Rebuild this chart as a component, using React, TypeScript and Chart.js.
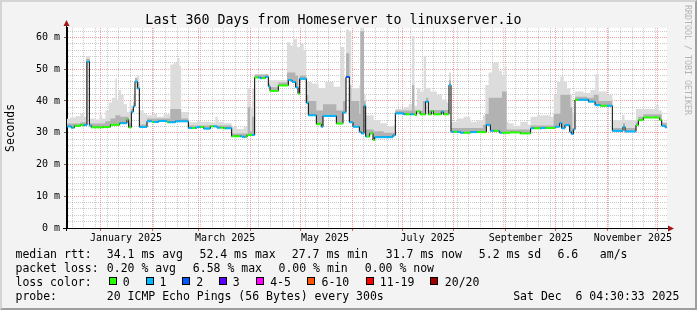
import React, { useEffect, useRef } from "react";
import { Chart, registerables } from "chart.js";

Chart.register(...registerables);

const FONT = "'DejaVu Sans Mono', monospace";

// ---------- axis definitions (x = days relative to 1 Jan 2025) ----------
const X_MIN = -20;
const X_MAX = 340;
const MONTH_START_DAYS = [0, 31, 59, 90, 120, 151, 181, 212, 243, 273, 304, 334];
const FIRST_SUNDAY_DAY = -17;
const MONTH_LABELS = ["January 2025", "March 2025", "May 2025", "July 2025", "September 2025", "November 2025"];
const MONTH_LABEL_DAYS = [15.4, 74.9, 134.8, 196.4, 258.3, 319.5];
const Y_MAX = 63;
const Y_MAJOR_STEP = 10;
const Y_MINOR_STEP = 2;

const TITLE = "Last 360 Days from Homeserver to linuxserver.io";
const Y_TITLE = "Seconds";

// ---------- data (milliseconds) ----------
const MEDIAN_DAYS = [
  -20, -17.5, -15.5, -12, -8, -6.6, -5.5, 2, 6, 11.5, 16, 17, 18.6, 19.8, 20.8, 22.2, 23.4, 28, 31, 35, 40, 45,
  52.8, 58, 62, 66, 70, 74, 78.8, 85, 88, 92.6, 96, 99, 100.8, 101.8, 106.8, 112.8, 115, 117.2, 118.6, 119.6,
  123.6, 124.8, 129.6, 132.6, 133.6, 141.6, 145.6, 147.4, 149.4, 151.6, 155.4, 156.6, 158.2, 159.2, 161.6,
  163.6, 164.6, 175.6, 177, 182, 188.8, 189.8, 191.8, 195.2, 196.8, 198.6, 199.8, 204.6, 205.8, 209.2, 210.4,
  216, 222, 231.6, 234, 239.6, 245.8, 252, 258.2, 265, 272.8, 275.6, 276.8, 278.8, 281.6, 282.6, 283.8, 284.8,
  292.8, 296.8, 300, 307.2, 313.6, 314.8, 321.4, 322.8, 325.8, 335.6, 336.8, 338.8,
];
const MEDIAN_MS = [
  32.0, 31.6, 32.2, 32.4, 52.4, 32.3, 31.7, 31.8, 32.5, 33.0, 34.2, 31.7, 36.6, 38.3, 46.1, 44.0, 31.8, 33.6, 33.4, 33.7, 33.3, 33.6,
  31.5, 31.8, 31.3, 32.0, 31.6, 31.4, 28.9, 28.7, 29.3, 47.4, 47.2, 47.6, 44.6, 43.2, 44.9, 46.6, 46.0, 44.3, 42.3, 47.0,
  39.4, 35.5, 32.7, 31.9, 35.3, 32.9, 36.4, 47.6, 33.3, 31.9, 30.3, 29.8, 38.5, 28.8, 29.8,
  27.7, 28.6, 29.2, 36.1, 35.8, 35.6, 36.7, 35.8, 39.8, 35.8, 36.8, 35.8, 36.6, 35.8, 45.0, 30.3,
  30.0, 30.2, 32.5, 30.6, 30.0, 30.1, 29.8, 31.4, 31.5, 31.9, 33.0, 31.4, 32.4, 30.3, 29.6, 31.0, 40.4,
  39.8, 38.7, 38.5, 30.6, 31.9, 30.4, 32.4, 34.0, 34.8, 34.0, 32.2, 31.7,
];

// loss level: 0 -> "0", 1 -> "1", 2 -> "2" lost pings of 20
const LOSS_DAYS = [
  -20, -16, -10, -5.5, 12, 16, 18.6, 31, 32, 40, 41, 55, 57, 60, 62, 66, 68, 72, 75, 79, 84, 87, 91, 92.6, 95, 97,
  99, 101.8, 112.8, 118.6, 119.6, 129.6, 132.6, 141.6, 145.6, 147.4, 149.4, 160, 164.6, 183, 186, 188, 195.2,
  196.8, 204.6, 206, 209.2, 212, 214, 218, 222, 226, 231.6, 236, 239, 241, 258.2, 260, 264, 267, 272.8, 284.8,
  287, 300, 304, 321.4, 336.8,
];
const LOSS_LEVEL = [
  1, 0, 1, 0, 1, 0, 1, 0, 1, 0, 1, 0, 1, 0, 1, 0, 1, 0, 1, 0, 1, 0, 1, 0, 1, 0,
  1, 0, 1, 0, 1, 0, 1, 0, 1, 2, 1, 0, 1, 0, 1, 0, 1,
  0, 1, 0, 1, 0, 1, 0, 1, 0, 1, 0, 1, 0, 1, 0, 1, 0, 1, 0,
  1, 0, 1, 0, 1,
];

// upper edge of the light smoke (slowest pings)
const SMOKE_HIGH_DAYS = [
  -20, -18, -15, -12, -10, -8.5, -6.2, -3, -0.5, 1, 3, 5, 7, 9, 10, 11, 12.5, 14, 16, 17.5, 18.6, 19.8, 20.8, 22.2,
  23.4, 26, 28, 32, 34, 38, 42, 44, 46, 47.5, 48.5, 52.8, 58, 60, 66, 69, 70.5, 74, 78.8, 82, 86, 88.4, 89.8, 91,
  92.6, 100, 101, 112, 114, 116, 118, 120, 122, 123.6, 127, 131, 135, 140, 144, 146.4, 147.4, 149.4, 150.6, 155.4,
  156, 158.2, 159.2, 162, 164, 168, 172, 176, 177, 182, 185, 187, 188.4, 190, 192, 194, 195.4, 198, 202, 205, 208,
  209.2, 210.4, 214, 218, 222, 226, 229.5, 231, 233, 235, 237, 239, 241, 242.5, 243.8, 245, 248, 252, 256, 258.2,
  262, 266, 270, 272, 274, 276, 278, 280, 282, 283.2, 284.8, 290, 294, 297, 299, 304, 307.2, 313, 314.5, 321.4,
  330, 333.5, 335, 336.8,
];
const SMOKE_HIGH_MS = [
  34.4, 34.8, 35.2, 36.0, 35.0, 54.2, 34.5, 34.2, 35.5, 34.5, 37.0, 39.5, 41.0, 47.0, 40.5, 43.5, 42.0, 39.0, 36.5, 40.0, 38.5, 42.0, 47.5, 48.2,
  37.0, 36.0, 35.5, 36.0, 35.0, 35.8, 51.5, 52.0, 53.5, 51.0, 36.5, 33.3, 33.8, 33.5, 33.2, 35.0, 33.5, 33.0, 31.8, 31.2, 32.0, 44.0, 38.0, 44.0,
  48.5, 48.0, 46.5, 58.5, 57.5, 59.5, 57.0, 58.0, 56.0, 46.0, 45.5, 44.0, 46.0, 44.5, 57.0, 47.0, 62.5, 62.0, 44.0, 45.0,
  63.0, 42.0, 35.5, 35.5, 34.0, 33.0, 32.0, 32.5, 37.5, 38.0, 39.0, 60.5, 38.5, 44.0, 43.0, 54.0, 44.0, 43.0, 42.0, 40.5, 39.5,
  49.0, 33.5, 34.5, 35.0, 33.5, 34.0, 35.5, 45.0, 49.0, 52.0, 52.3, 49.5, 48.0, 51.0, 33.5, 33.0, 32.2, 33.5, 32.5, 35.0,
  35.5, 35.5, 35.0, 42.0, 46.0, 47.6, 46.0, 44.0, 42.0, 36.0, 43.0, 42.5, 43.5, 48.5, 43.0, 42.0, 34.0, 35.7, 34.0, 37.5,
  37.5, 38.7, 37.0, 33.5,
];

// upper edge of the dense (darker) part of the smoke
const SMOKE_CORE_DAYS = [
  -20, -12, -8.5, -6.2, 3, 6, 9, 12, 16, 17, 18.6, 19.8, 20.8, 22.2, 23.4, 28, 42, 48.5, 52.8, 78.8, 88.4, 89.8,
  91, 92.6, 99, 100.8, 101.8, 106.8, 112, 117, 118.6, 119.6, 123.6, 124.8, 129.6, 133.6, 141.6, 145.6, 147.4,
  149.4, 150.6, 155.4, 156, 158.2, 159.2, 164, 170, 177, 187, 188.4, 193.5, 195.4, 196.8, 209.2, 210.4, 229.5,
  231, 233, 241, 243.8, 258.2, 272, 276, 282, 283.2, 284.8, 292, 296, 299, 307.2, 313.6, 314.8, 321.4, 322.8,
  325.8, 336.8,
];
const SMOKE_CORE_MS = [
  32.9, 33.3, 53.2, 32.9, 33.6, 34.5, 35.5, 35.0, 35.0, 33.0, 37.5, 39.5, 47.2, 46.0, 32.6, 34.5, 37.5, 34.5, 32.3, 29.8, 38.0, 30.5,
  35.0, 48.3, 48.4, 45.4, 44.3, 45.8, 49.0, 48.0, 44.0, 48.0, 42.0, 40.0, 37.0, 39.0, 37.0, 40.0, 55.0,
  45.0, 40.0, 36.0, 62.0, 40.0, 31.0, 30.5, 30.0, 37.0, 45.0, 37.0, 40.0, 41.0, 37.2, 46.5, 31.5, 32.5,
  36.0, 41.0, 43.0, 31.0, 32.3, 36.0, 42.0, 38.0, 31.5, 41.3, 41.0, 42.0, 40.0, 31.5, 33.0, 31.5, 33.3, 35.0,
  35.8, 33.0,
];

const LOSS_COLORS = ["#26ff00", "#00b8ff", "#0059ff", "#5e00ff", "#ff00ff", "#ff5500", "#ff0000", "#a10000"];
const LOSS_LEGEND = ["0", "1", "2", "3", "4-5", "6-10", "11-19", "20/20"];

// ---------- helpers ----------
// each value holds from its day until the next day (step)
function toPoints(days: number[], vals: number[]) {
  const pts = days.map((d, i) => ({ x: d, y: vals[i] }));
  pts.push({ x: X_MAX, y: vals[vals.length - 1] });
  return pts;
}
function valueAt(days: number[], vals: number[], d: number) {
  let idx = 0;
  for (let i = 0; i < days.length; i++) if (days[i] <= d) idx = i;
  return vals[idx];
}
function lossSegments() {
  const cuts = Array.from(new Set([...MEDIAN_DAYS, ...LOSS_DAYS, X_MAX])).sort((a, b) => a - b);
  const pts: { x: number; y: number | null }[] = [];
  const cols: string[] = [];
  for (let i = 0; i < cuts.length - 1; i++) {
    const a = cuts[i];
    const b = cuts[i + 1];
    const v = valueAt(MEDIAN_DAYS, MEDIAN_MS, a);
    const c = LOSS_COLORS[valueAt(LOSS_DAYS, LOSS_LEVEL, a)];
    pts.push({ x: a, y: v }, { x: b, y: v }, { x: b, y: null });
    cols.push(c, c, "rgba(0,0,0,0)");
  }
  return { pts, cols };
}

const X_GRID = (() => {
  const s = new Set<number>(MONTH_START_DAYS.filter((d) => d > X_MIN && d < X_MAX));
  for (let d = FIRST_SUNDAY_DAY; d < X_MAX; d += 7) s.add(d);
  return Array.from(s).sort((a, b) => a - b);
})();
const Y_GRID = (() => {
  const t: number[] = [];
  for (let v = 0; v < Y_MAX; v += Y_MINOR_STEP) t.push(v);
  return t;
})();

const MAJOR_GRID = "rgba(240,80,80,0.55)";
const MINOR_GRID = "rgba(150,150,150,0.5)";

const frame = {
  id: "rrdFrame",
  beforeDraw(chart: any) {
    const { ctx, chartArea: a } = chart;
    ctx.save();
    ctx.fillStyle = "#ffffff";
    ctx.fillRect(a.left, a.top, a.right - a.left, a.bottom - a.top);
    ctx.restore();
  },
  afterDraw(chart: any) {
    const { ctx, chartArea: a } = chart;
    ctx.save();
    ctx.strokeStyle = "#000";
    ctx.lineWidth = 1;
    ctx.beginPath();
    ctx.moveTo(a.left - 0.5, a.bottom + 3);
    ctx.lineTo(a.left - 0.5, a.top - 4);
    ctx.moveTo(a.left - 4, a.bottom + 0.5);
    ctx.lineTo(a.right + 2, a.bottom + 0.5);
    ctx.stroke();
    ctx.fillStyle = "#a01818";
    ctx.beginPath();
    ctx.moveTo(a.left - 0.5, a.top - 8);
    ctx.lineTo(a.left - 3.5, a.top - 2);
    ctx.lineTo(a.left + 2.5, a.top - 2);
    ctx.closePath();
    ctx.fill();
    ctx.beginPath();
    ctx.moveTo(a.right + 7, a.bottom + 0.5);
    ctx.lineTo(a.right + 1, a.bottom - 2.5);
    ctx.lineTo(a.right + 1, a.bottom + 3.5);
    ctx.closePath();
    ctx.fill();
    ctx.restore();
  },
};

const legendLines: { top: number; items: [string, number][] }[] = [
  {
    top: 247,
    items: [
      ["median rtt:", 15.5],
      ["34.1 ms avg", 106.8],
      ["52.4 ms max", 199.5],
      ["27.7 ms min", 291.8],
      ["31.7 ms now", 385.8],
      ["5.2 ms sd", 478.8],
      ["6.6", 557.5],
      ["am/s", 599.8],
    ],
  },
  {
    top: 261,
    items: [
      ["packet loss:", 15.5],
      ["0.20 % avg", 106.8],
      ["6.58 % max", 192.8],
      ["0.00 % min", 278.5],
      ["0.00 % now", 364.8],
    ],
  },
  { top: 275, items: [["loss color:", 15.5]] },
  {
    top: 289,
    items: [
      ["probe:", 15.5],
      ["20 ICMP Echo Pings (56 Bytes) every 300s", 106.8],
      ["Sat Dec  6 04:30:33 2025", 513.2],
    ],
  },
];
const BOX_LEFT = [108.7, 145.7, 182.3, 219.3, 256.3, 307.3, 366, 430.3];
const BOX_LABEL_LEFT = [122.8, 159.5, 196.2, 232.8, 270.2, 321.5, 379.8, 444.8];

export default function App() {
  const ref = useRef<HTMLCanvasElement>(null);

  useEffect(() => {
    const seg = lossSegments();
    const chart = new Chart(ref.current as HTMLCanvasElement, {
      type: "line",
      data: {
        datasets: [
          {
            label: "median (loss colour)",
            data: seg.pts as any,
            borderWidth: 2,
            borderColor: "#26ff00",
            segment: { borderColor: (c: any) => seg.cols[c.p0DataIndex] },
            pointRadius: 0,
            fill: false,
            spanGaps: false,
          },
          {
            label: "median",
            data: toPoints(MEDIAN_DAYS, MEDIAN_MS),
            stepped: "before",
            borderWidth: 1,
            borderColor: "#000000",
            pointRadius: 0,
            fill: false,
          },
          {
            label: "smoke core",
            data: toPoints(SMOKE_CORE_DAYS, SMOKE_CORE_MS),
            stepped: "before",
            borderWidth: 0,
            borderColor: "rgba(0,0,0,0)",
            backgroundColor: "#b2b2b2",
            pointRadius: 0,
            fill: { target: 1 },
          },
          {
            label: "smoke",
            data: toPoints(SMOKE_HIGH_DAYS, SMOKE_HIGH_MS),
            stepped: "before",
            borderWidth: 0,
            borderColor: "rgba(0,0,0,0)",
            backgroundColor: "#dcdcdc",
            pointRadius: 0,
            fill: { target: 1 },
          },
        ],
      },
      options: {
        responsive: false,
        animation: false,
        devicePixelRatio: 1,
        layout: { padding: { left: 0, right: 30, top: 0, bottom: 0 } },
        plugins: {
          legend: { display: false },
          tooltip: { enabled: false },
          title: {
            display: true,
            text: TITLE,
            color: "#000",
            font: { family: FONT, size: 13.3, weight: "normal" },
            padding: { top: 13, bottom: -1 },
          },
        },
        scales: {
          x: {
            type: "linear",
            position: "bottom",
            min: X_MIN,
            max: X_MAX,
            weight: 0,
            z: 1,
            afterBuildTicks: (axis: any) => {
              axis.ticks = X_GRID.map((v) => ({ value: v }));
            },
            afterFit: (axis: any) => {
              axis.height = 3;
              axis.paddingLeft = 0;
              axis.paddingRight = 0;
            },
            ticks: { display: false, autoSkip: false },
            grid: {
              color: (c: any) => (MONTH_START_DAYS.includes(c.tick?.value) ? MAJOR_GRID : MINOR_GRID),
              tickColor: (c: any) => (MONTH_START_DAYS.includes(c.tick?.value) ? "#e06060" : "rgba(0,0,0,0)"),
              tickLength: 3,
              lineWidth: 1,
            },
            border: { display: true, color: "#000", width: 1, dash: [1, 1] },
          },
          x2: {
            type: "linear",
            position: "bottom",
            min: X_MIN,
            max: X_MAX,
            weight: 1,
            afterBuildTicks: (axis: any) => {
              axis.ticks = MONTH_LABEL_DAYS.map((v) => ({ value: v }));
            },
            afterFit: (axis: any) => {
              axis.height = 79;
              axis.paddingLeft = 0;
              axis.paddingRight = 0;
            },
            ticks: {
              autoSkip: false,
              maxRotation: 0,
              padding: 1,
              color: "#000",
              font: { family: FONT, size: 10 },
              callback: (_v: any, i: number) => MONTH_LABELS[i],
            },
            grid: { display: false, drawTicks: false, tickLength: 0 },
            border: { display: false },
          },
          y: {
            type: "linear",
            position: "left",
            min: 0,
            max: Y_MAX,
            z: 1,
            afterBuildTicks: (axis: any) => {
              axis.ticks = Y_GRID.map((v) => ({ value: v }));
            },
            afterFit: (axis: any) => {
              axis.width = 67;
              axis.paddingTop = 0;
              axis.paddingBottom = 0;
            },
            ticks: {
              autoSkip: false,
              padding: 4,
              color: "#000",
              font: { family: FONT, size: 10 },
              callback: (v: any) => (v % Y_MAJOR_STEP === 0 ? `${v} m` : ""),
            },
            grid: {
              color: (c: any) => {
                const v = c.tick?.value;
                if (v === 0) return "rgba(0,0,0,0)";
                return v % Y_MAJOR_STEP === 0 ? MAJOR_GRID : MINOR_GRID;
              },
              tickColor: (c: any) => (c.tick?.value % Y_MAJOR_STEP === 0 ? "#666" : "rgba(0,0,0,0)"),
              tickLength: 3,
              lineWidth: 1,
            },
            border: { display: true, color: "#000", width: 1, dash: [1, 1] },
            title: {
              display: true,
              text: Y_TITLE,
              color: "#000",
              font: { family: FONT, size: 11.4 },
              padding: { top: 4, bottom: 0 },
            },
          },
        },
      } as any,
      plugins: [frame],
    });
    return () => chart.destroy();
  }, []);

  const textStyle: React.CSSProperties = {
    position: "absolute",
    fontFamily: FONT,
    fontSize: "11.5px",
    lineHeight: "14px",
    whiteSpace: "pre",
    color: "#000",
  };

  return (
    <div
      style={{
        position: "absolute",
        left: 0,
        top: 0,
        width: 697,
        height: 310,
        background: "#f3f3f3",
        overflow: "hidden",
      }}
    >
      <canvas ref={ref} width={697} height={310} style={{ position: "absolute", left: 0, top: 0 }} />
      {legendLines.map((line, li) =>
        line.items.map(([t, left], i) => (
          <div key={`${li}-${i}`} style={{ ...textStyle, top: line.top, left }}>
            {t}
          </div>
        ))
      )}
      {LOSS_LEGEND.map((lab, i) => (
        <React.Fragment key={lab}>
          <div
            style={{
              position: "absolute",
              left: BOX_LEFT[i],
              top: 277,
              width: 8,
              height: 8,
              boxSizing: "border-box",
              border: "1px solid #000",
              background: LOSS_COLORS[i],
            }}
          />
          <div style={{ ...textStyle, top: 275, left: BOX_LABEL_LEFT[i] }}>{lab}</div>
        </React.Fragment>
      ))}
      <div
        style={{
          position: "absolute",
          left: 683,
          top: 5,
          writingMode: "vertical-rl",
          fontFamily: FONT,
          fontSize: "8.3px",
          lineHeight: "10px",
          whiteSpace: "pre",
          color: "#b4b4b4",
        }}
      >
        RRDTOOL / TOBI OETIKER
      </div>
      <div
        style={{
          position: "absolute",
          left: 0,
          top: 0,
          width: 697,
          height: 310,
          boxSizing: "border-box",
          borderStyle: "solid",
          borderWidth: 2,
          borderColor: "#d4d4d4 #9e9e9e #9e9e9e #d4d4d4",
          pointerEvents: "none",
        }}
      />
    </div>
  );
}
